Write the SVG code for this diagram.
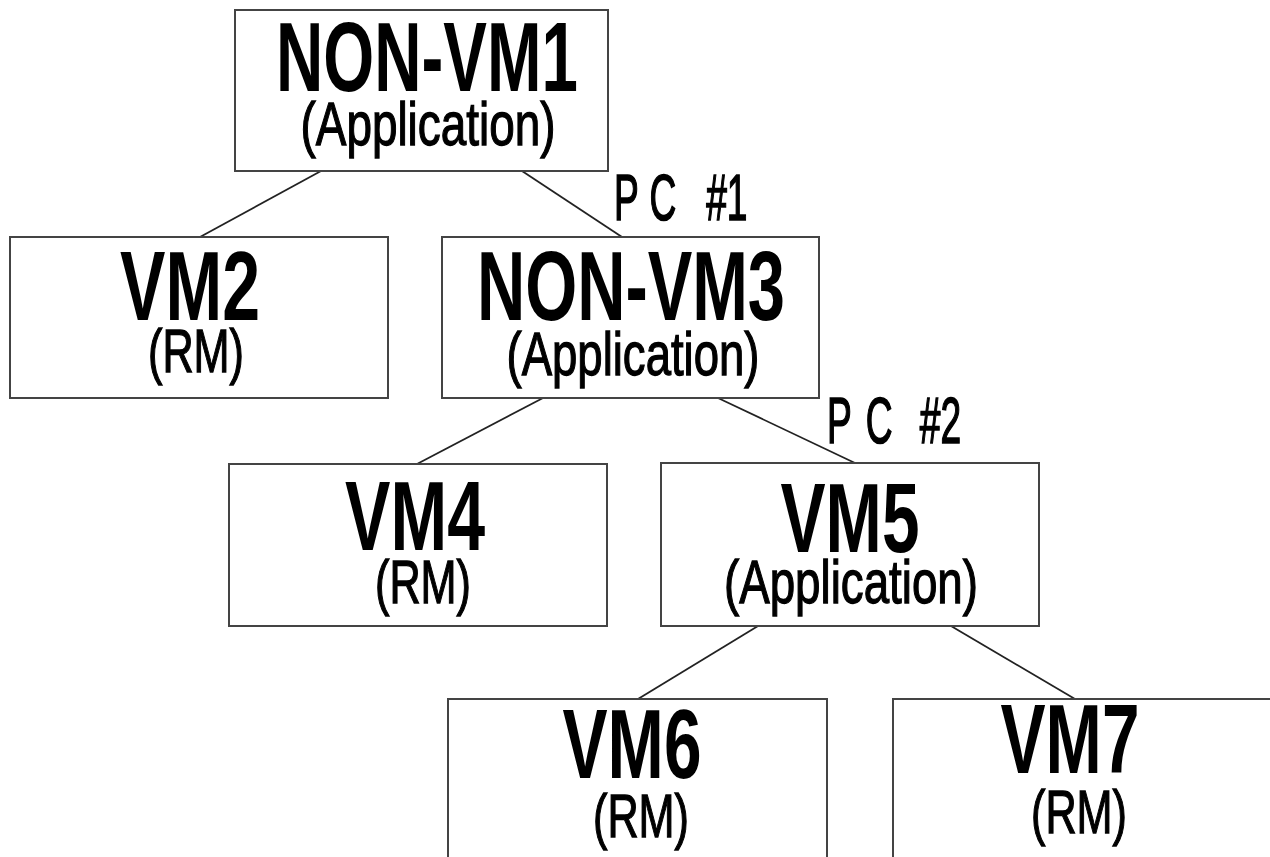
<svg xmlns="http://www.w3.org/2000/svg" width="1270" height="857" viewBox="0 0 1270 857">
<style>
.box{fill:#fff;stroke:#444;stroke-width:2}
.conn{stroke:#222;stroke-width:1.8;fill:none}
.main{font-family:"Liberation Sans",Arial,sans-serif;font-weight:bold;font-size:99px;fill:#000;text-anchor:middle}
.sub{font-family:"Liberation Sans",Arial,sans-serif;font-size:62px;fill:#000;stroke:#000;stroke-width:1.3;text-anchor:middle}
.pc{font-family:"Liberation Sans",Arial,sans-serif;font-size:64px;fill:#000;stroke:#000;stroke-width:1.6}
</style>
<rect width="1270" height="857" fill="#fff"/>
<g id="connectors">
<line class="conn" x1="321" y1="171" x2="200" y2="237"/>
<line class="conn" x1="522" y1="171" x2="622" y2="237"/>
<line class="conn" x1="543" y1="398" x2="417" y2="464"/>
<line class="conn" x1="718" y1="398" x2="855" y2="463"/>
<line class="conn" x1="758" y1="626" x2="638" y2="699"/>
<line class="conn" x1="951" y1="626" x2="1075" y2="699"/>
</g>
<g id="labels">
<text class="pc" transform="translate(614,220) scale(0.58,1)">P<tspan x="61">C</tspan><tspan x="159">#1</tspan></text>
<text class="pc" transform="translate(827,443) scale(0.58,1)">P<tspan x="67">C</tspan><tspan x="160">#2</tspan></text>
</g>
<g id="nonvm1">
<rect class="box" x="235" y="10" width="373" height="161"/>
<text class="main" x="427" y="91" textLength="302" lengthAdjust="spacingAndGlyphs">NON-VM1</text>
<text class="sub" x="428" y="145" textLength="255" lengthAdjust="spacingAndGlyphs">(Application)</text>
</g>
<g id="vm2">
<rect class="box" x="10" y="237" width="378" height="161"/>
<text class="main" x="190" y="320" textLength="140" lengthAdjust="spacingAndGlyphs">VM2</text>
<text class="sub" x="196" y="372" textLength="96" lengthAdjust="spacingAndGlyphs">(RM)</text>
</g>
<g id="nonvm3">
<rect class="box" x="442" y="237" width="377" height="161"/>
<text class="main" x="631" y="320" textLength="308" lengthAdjust="spacingAndGlyphs">NON-VM3</text>
<text class="sub" x="633" y="375" textLength="253" lengthAdjust="spacingAndGlyphs">(Application)</text>
</g>
<g id="vm4">
<rect class="box" x="229" y="464" width="378" height="162"/>
<text class="main" x="415" y="550" textLength="140" lengthAdjust="spacingAndGlyphs">VM4</text>
<text class="sub" x="423" y="603" textLength="96" lengthAdjust="spacingAndGlyphs">(RM)</text>
</g>
<g id="vm5">
<rect class="box" x="661" y="463" width="378" height="163"/>
<text class="main" x="850" y="552" textLength="139" lengthAdjust="spacingAndGlyphs">VM5</text>
<text class="sub" x="851" y="603" textLength="254" lengthAdjust="spacingAndGlyphs">(Application)</text>
</g>
<g id="vm6">
<rect class="box" x="448" y="699" width="379" height="170"/>
<text class="main" x="632" y="778" textLength="139" lengthAdjust="spacingAndGlyphs">VM6</text>
<text class="sub" x="641" y="837" textLength="96" lengthAdjust="spacingAndGlyphs">(RM)</text>
</g>
<g id="vm7">
<rect class="box" x="893" y="699" width="390" height="170"/>
<text class="main" x="1070" y="773" textLength="139" lengthAdjust="spacingAndGlyphs">VM7</text>
<text class="sub" x="1079" y="833" textLength="96" lengthAdjust="spacingAndGlyphs">(RM)</text>
</g>
</svg>
